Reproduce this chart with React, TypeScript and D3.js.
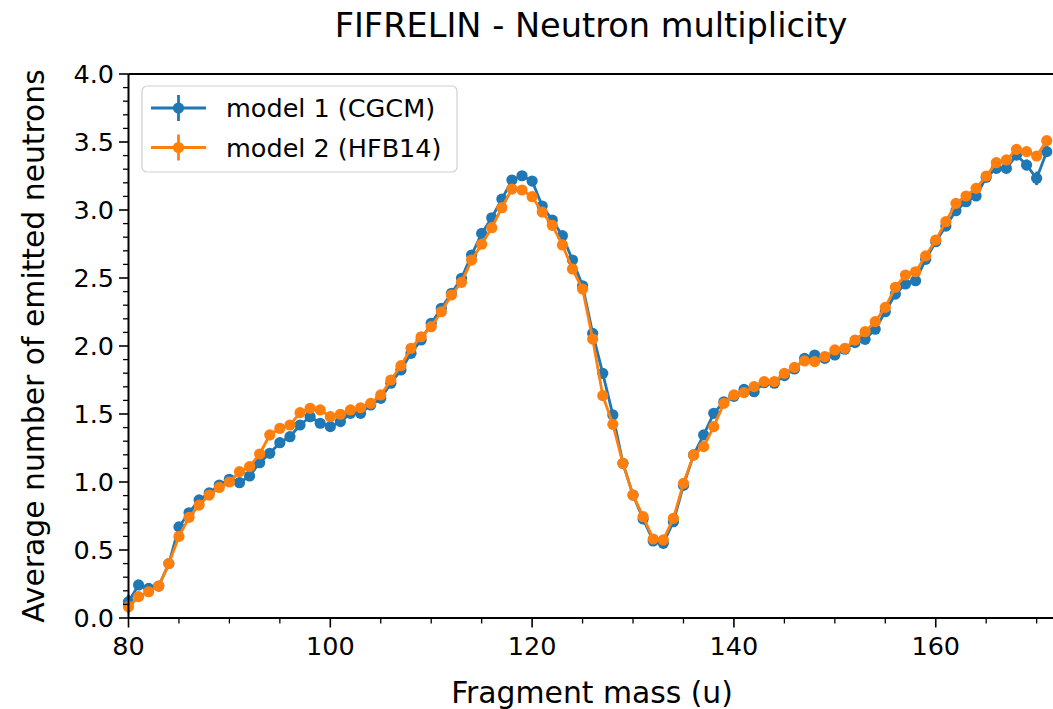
import React, { useEffect, useRef } from "react";
import * as d3 from "d3";

const masses = [80,81,82,83,84,85,86,87,88,89,90,91,92,93,94,95,96,97,98,99,100,101,102,103,104,105,106,107,108,109,110,111,112,113,114,115,116,117,118,119,120,121,122,123,124,125,126,127,128,129,130,131,132,133,134,135,136,137,138,139,140,141,142,143,144,145,146,147,148,149,150,151,152,153,154,155,156,157,158,159,160,161,162,163,164,165,166,167,168,169,170,171];

const model1 = [0.12,0.243,0.218,0.235,0.40,0.67,0.774,0.868,0.92,0.978,1.02,0.995,1.044,1.142,1.211,1.289,1.333,1.419,1.48,1.432,1.407,1.444,1.505,1.505,1.566,1.615,1.726,1.824,1.946,2.044,2.167,2.277,2.387,2.498,2.669,2.828,2.943,3.08,3.22,3.252,3.213,3.029,2.926,2.811,2.632,2.443,2.093,1.799,1.493,1.137,0.904,0.728,0.566,0.549,0.708,0.975,1.199,1.346,1.505,1.59,1.63,1.681,1.664,1.730,1.726,1.782,1.831,1.909,1.934,1.909,1.934,1.976,2.025,2.049,2.123,2.252,2.382,2.456,2.48,2.637,2.767,2.882,2.995,3.061,3.103,3.24,3.306,3.306,3.404,3.331,3.233,3.429];

const model2 = [0.083,0.157,0.193,0.235,0.40,0.60,0.74,0.83,0.904,0.96,1.00,1.076,1.113,1.206,1.346,1.395,1.419,1.51,1.542,1.53,1.48,1.498,1.53,1.546,1.578,1.64,1.75,1.855,1.983,2.068,2.142,2.252,2.375,2.468,2.632,2.748,2.87,3.017,3.154,3.147,3.098,2.985,2.887,2.743,2.566,2.419,2.051,1.635,1.424,1.137,0.904,0.745,0.581,0.574,0.733,0.99,1.199,1.26,1.407,1.578,1.64,1.657,1.701,1.738,1.738,1.799,1.843,1.89,1.885,1.922,1.971,1.983,2.044,2.105,2.179,2.284,2.432,2.522,2.546,2.662,2.779,2.914,3.049,3.103,3.159,3.25,3.348,3.368,3.446,3.429,3.397,3.51];

// visible error bars only (mass, half-width)
const err1 = [[80, 0.05], [169, 0.04], [170, 0.05], [171, 0.04]];
const err2 = [[80, 0.05], [171, 0.03]];

const seriesNames = ["model 1 (CGCM)", "model 2 (HFB14)"];
const xMajor = [80, 100, 120, 140, 160];
const yMajor = [0, 0.5, 1.0, 1.5, 2.0, 2.5, 3.0, 3.5, 4.0];

const title = "FIFRELIN - Neutron multiplicity";
const xLabel = "Fragment mass (u)";
const yLabel = "Average number of emitted neutrons";

const W = 1053, H = 709;
const FONT = "DejaVu Sans";
const C1 = "#1f77b4", C2 = "#ff7f0e";
const LW = 2.8, MR = 5.6, TICKFS = 25.5;

export default function App() {
  const ref = useRef<SVGSVGElement>(null);
  useEffect(() => {
    document.body.style.margin = "0";
    const svg = d3.select(ref.current);
    svg.selectAll("*").remove();
    const left = 128.5, right = 1053, top = 74, bottom = 618;
    const x = d3.scaleLinear().domain([80, 171.62]).range([left, right]);
    const y = d3.scaleLinear().domain([0, 4]).range([bottom, top]);

    const g = svg.append("g");

    const series = [
      { vals: model1, err: err1, color: C1 },
      { vals: model2, err: err2, color: C2 },
    ];
    const line = d3.line<[number, number]>().x(d => x(d[0])).y(d => y(d[1]));
    series.forEach(s => {
      const pts: [number, number][] = masses.map((m, i) => [m, s.vals[i]]);
      g.append("path").attr("d", line(pts)).attr("fill", "none")
        .attr("stroke", s.color).attr("stroke-width", LW).attr("stroke-linejoin", "round");
      s.err.forEach(([m, e]) => {
        const v = s.vals[masses.indexOf(m)];
        g.append("line").attr("x1", x(m)).attr("x2", x(m))
          .attr("y1", y(v - e)).attr("y2", y(v + e))
          .attr("stroke", s.color).attr("stroke-width", LW);
      });
      g.selectAll(null).data(pts).enter().append("circle")
        .attr("cx", d => x(d[0])).attr("cy", d => y(d[1])).attr("r", MR)
        .attr("fill", s.color);
    });

    // spines
    const ax = svg.append("g");
    ax.append("line").attr("x1", left).attr("x2", left).attr("y1", top).attr("y2", bottom)
      .attr("stroke", "#000").attr("stroke-width", 2);
    ax.append("line").attr("x1", left).attr("x2", right).attr("y1", bottom).attr("y2", bottom)
      .attr("stroke", "#000").attr("stroke-width", 2);
    ax.append("line").attr("x1", left).attr("x2", right).attr("y1", top).attr("y2", top)
      .attr("stroke", "#000").attr("stroke-width", 2);

    // x ticks
    const xMinor = d3.range(80, 172, 5).filter(v => !xMajor.includes(v));
    xMinor.forEach(v => {
      ax.append("line").attr("x1", x(v)).attr("x2", x(v)).attr("y1", bottom).attr("y2", bottom + 5.5)
        .attr("stroke", "#000").attr("stroke-width", 1.3);
    });
    xMajor.forEach(v => {
      ax.append("line").attr("x1", x(v)).attr("x2", x(v)).attr("y1", bottom).attr("y2", bottom + 9.5)
        .attr("stroke", "#000").attr("stroke-width", 1.6);
      ax.append("text").attr("x", x(v)).attr("y", bottom + 37).attr("text-anchor", "middle")
        .attr("font-family", FONT).attr("font-size", TICKFS).attr("fill", "#000").text(String(v));
    });
    // y ticks
    const yMinor = d3.range(0, 40).map(i => i / 10).filter(v => Math.abs(v * 2 - Math.round(v * 2)) > 1e-6);
    yMinor.forEach(v => {
      ax.append("line").attr("x1", left - 5.5).attr("x2", left).attr("y1", y(v)).attr("y2", y(v))
        .attr("stroke", "#000").attr("stroke-width", 1.3);
    });
    yMajor.forEach(v => {
      ax.append("line").attr("x1", left - 9.5).attr("x2", left).attr("y1", y(v)).attr("y2", y(v))
        .attr("stroke", "#000").attr("stroke-width", 1.6);
      ax.append("text").attr("x", left - 14.5).attr("y", y(v) + 9).attr("text-anchor", "end")
        .attr("font-family", FONT).attr("font-size", TICKFS).attr("fill", "#000").text(v.toFixed(1));
    });

    // labels
    svg.append("text").attr("x", 592).attr("y", 703).attr("text-anchor", "middle")
      .attr("font-family", FONT).attr("font-size", 29.8).attr("fill", "#000").text(xLabel);
    svg.append("text").attr("transform", `translate(44,${(top + bottom) / 2}) rotate(-90)`)
      .attr("text-anchor", "middle").attr("font-family", FONT).attr("font-size", 29.8)
      .attr("fill", "#000").text(yLabel);
    svg.append("text").attr("x", 591).attr("y", 37).attr("text-anchor", "middle")
      .attr("font-family", FONT).attr("font-size", 33.6).attr("fill", "#000").text(title);

    // legend
    const lg = svg.append("g");
    lg.append("rect").attr("x", 142).attr("y", 86).attr("width", 315).attr("height", 86).attr("rx", 5)
      .attr("fill", "#fff").attr("fill-opacity", 0.8).attr("stroke", "#d0d0d0").attr("stroke-width", 1.2);
    [C1, C2].forEach((c, i) => {
      const cy = 108 + i * 39.5;
      lg.append("line").attr("x1", 151).attr("x2", 206).attr("y1", cy).attr("y2", cy)
        .attr("stroke", c).attr("stroke-width", LW);
      lg.append("line").attr("x1", 178.5).attr("x2", 178.5).attr("y1", cy - 13).attr("y2", cy + 13)
        .attr("stroke", c).attr("stroke-width", LW);
      lg.append("circle").attr("cx", 178.5).attr("cy", cy).attr("r", MR).attr("fill", c);
      lg.append("text").attr("x", 226).attr("y", cy + 9).attr("font-family", FONT)
        .attr("font-size", TICKFS).attr("fill", "#000").text(seriesNames[i]);
    });
  }, []);
  return <svg ref={ref} width={W} height={H} style={{ display: "block" }} />;
}
